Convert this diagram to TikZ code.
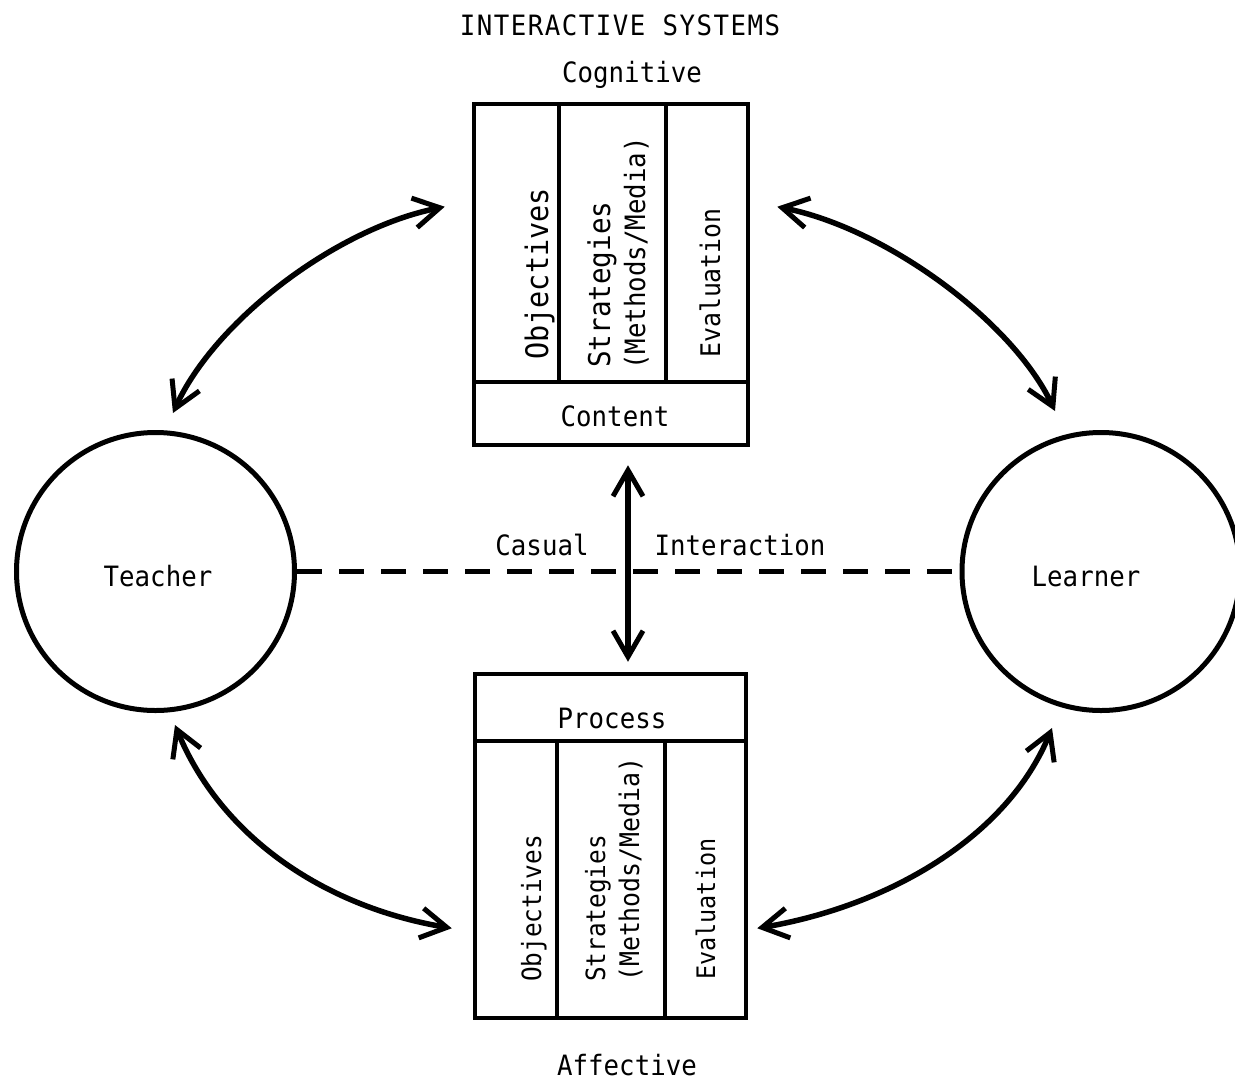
\documentclass[tikz,border=0pt]{standalone}
\usepackage{fontspec}
\newfontfamily\tw[FakeStretch=0.92]{DejaVu Sans Mono}
\usetikzlibrary{arrows.meta,calc}
\newcommand\tws[1]{\tw\fontsize{#1}{#1}\selectfont}
\tikzset{
  frame/.style={draw, line width=4.5pt, inner sep=0pt},
  lbl/.style={anchor=base, inner sep=0pt, font=\tws{28}},
  vtxt/.style={rotate=90, anchor=base west, inner sep=0pt, font=\tws{#1}},
  person/.style={circle, draw, line width=5pt, minimum size=278pt},
  barb/.tip={Straight Barb[length=26pt,width=30pt,line width=5pt]},
  conn/.style={line width=5.5pt, barb-barb},
  casual/.style={line width=5pt, dash pattern=on 25pt off 17pt}
}
\begin{document}
\begin{tikzpicture}[x=1pt,y=-1pt]
\useasboundingbox (0,0) rectangle (1235,1080);

% headings
\node[lbl] (title) at (620,35) {\addfontfeature{LetterSpace=5.4}INTERACTIVE SYSTEMS};
\node[lbl] (coglbl) at (632,82) {Cognitive};
\node[lbl] (afflbl) at (627,1075) {Affective};

% cognitive system block
\node[frame, minimum width=274pt, minimum height=341pt] (cog) at (611,274.5) {};
\node[frame, minimum width=85pt, minimum height=278pt] (cobj) at (516.5,243) {};
\node[frame, minimum width=107pt, minimum height=278pt] (cstr) at (612.5,243) {};
\node[frame, minimum width=82pt, minimum height=278pt] (cevl) at (707,243) {};
\node[frame, minimum width=274pt, minimum height=63pt] (ccon) at (611,413.5) {};
\node[vtxt=31] (cobjt) at (548,360) {Objectives};
\node[vtxt=30] (cstrt) at (610,368) {Strategies};
\node[vtxt=28] (cmedt) at (645,370) {(Methods/Media)};
\node[vtxt=27] (cevlt) at (720,358) {Evaluation};
\node[lbl] (ccont) at (615,426) {Content};

% affective system block
\node[frame, minimum width=271pt, minimum height=344pt] (aff) at (610.5,846) {};
\node[frame, minimum width=271pt, minimum height=67pt] (apro) at (610.5,707.5) {};
\node[frame, minimum width=82pt, minimum height=277pt] (aobj) at (516,879.5) {};
\node[frame, minimum width=108pt, minimum height=277pt] (astr) at (611,879.5) {};
\node[frame, minimum width=81pt, minimum height=277pt] (aevl) at (705.5,879.5) {};
\node[lbl] (aprot) at (612,728) {Process};
\node[vtxt=26.5] (aobjt) at (541,982) {Objectives};
\node[vtxt=26.5] (astrt) at (605,982) {Strategies};
\node[vtxt=27] (amedt) at (639,982) {(Methods/Media)};
\node[vtxt=25.5] (aevlt) at (715,980) {Evaluation};

% the two participants
\node[person] (teacher) at (155.5,571.5) {};
\node[person] (learner) at (1101,571.5) {};
\node[lbl] (teachert) at (158,586) {Teacher};
\node[lbl] (learnert) at (1086,586) {Learner};

% casual interaction
\draw[casual] (teacher) -- (learner);
\node[lbl] (cas) at (542,555) {Casual};
\node[lbl] (inter) at (740,555) {Interaction};
\draw[conn, shorten <=18pt, shorten >=10pt]
  ([xshift=17pt]cog.south) -- ([xshift=17.5pt]aff.north);

% exchanges between participants and systems
\draw[conn] ($(cog.north west)+(-27,105)$)
  .. controls +(-110,22) and +(41,-91) .. ($(teacher.center)+(17.5,-158.5)$);
\draw[conn] ($(cog.north east)+(27,105)$)
  .. controls +(110,22) and +(-42,-89) .. ($(learner.center)+(-46,-160.5)$);
\draw[conn] ($(teacher.center)+(19.5,153.5)$)
  .. controls +(45,110) and +(-130,-22) .. ($(aff.south west)+(-21,-92)$);
\draw[conn] ($(learner.center)+(-49,156.5)$)
  .. controls +(-45,110) and +(130,-22) .. ($(aff.south east)+(9,-92)$);
\end{tikzpicture}
\end{document}
